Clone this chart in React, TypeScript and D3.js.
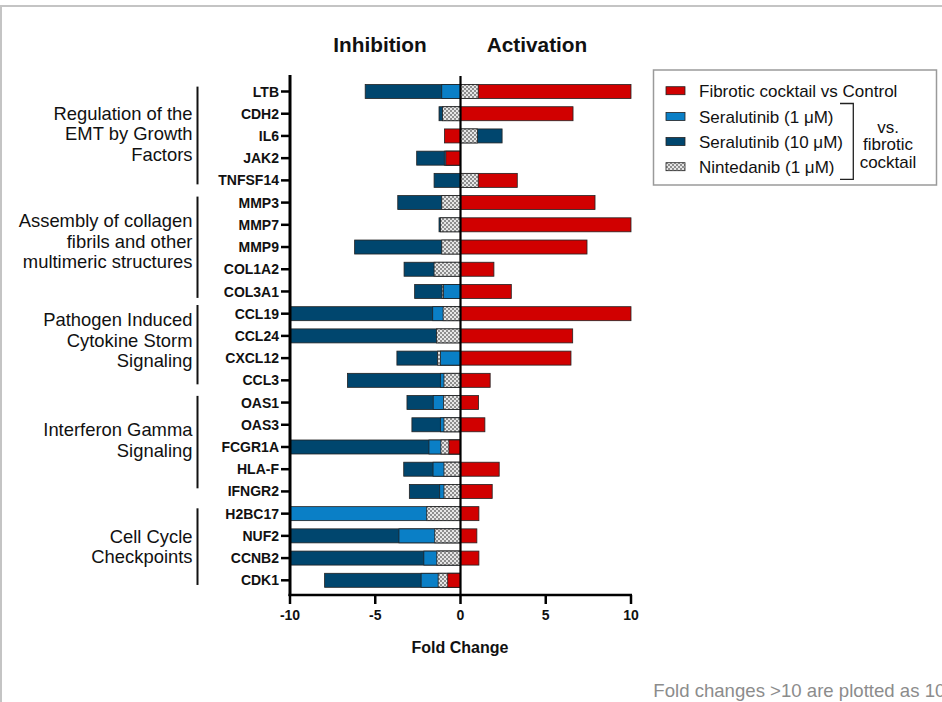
import React from "react";
import * as d3 from "d3";

const genes = ["LTB","CDH2","IL6","JAK2","TNFSF14","MMP3","MMP7","MMP9","COL1A2","COL3A1","CCL19","CCL24","CXCL12","CCL3","OAS1","OAS3","FCGR1A","HLA-F","IFNGR2","H2BC17","NUF2","CCNB2","CDK1"];

// Fold changes (values > 10 plotted as 10); null = not visible
const fibroticVsControl = [10,6.6,-0.94,-0.86,3.33,7.89,10,7.42,1.96,2.98,10,6.58,6.48,1.74,1.06,1.43,-0.68,2.27,1.86,1.08,0.96,1.08,-0.75];
const seralutinib1 = [-1.1,null,null,-0.95,null,null,null,null,null,-1.0,-1.63,null,-1.18,-1.18,-1.6,-1.18,-1.85,-1.61,-1.22,-10,-3.61,-2.15,-2.31];
const seralutinib10 = [-5.59,-1.26,2.44,-2.57,-1.55,-3.68,-1.26,-6.21,-3.31,-2.69,-10,-10,-3.73,-6.63,-3.14,-2.85,-10,-3.33,-3.0,null,-10,-10,-7.97];
const nintedanib1 = [1.04,-1.05,1.0,null,1.04,-1.1,-1.18,-1.1,-1.55,-1.08,-1.02,-1.41,-1.34,-0.97,-1.0,-0.97,-1.15,-0.97,-0.97,-1.98,-1.51,-1.39,-1.31];

const seriesNames = ["Fibrotic cocktail vs Control","Seralutinib (1 μM)","Seralutinib (10 μM)","Nintedanib (1 μM)"];
const xTicks = [-10,-5,0,5,10];

const groupLabels = [
  ["Regulation of the","EMT by Growth","Factors"],
  ["Assembly of collagen","fibrils and other","multimeric structures"],
  ["Pathogen Induced","Cytokine Storm","Signaling"],
  ["Interferon Gamma","Signaling"],
  ["Cell Cycle","Checkpoints"],
];
// bracket spans in row-index units (layout)
const groupSpans = [[-0.22,4.18],[4.73,9.29],[9.61,13.18],[13.7,17.86],[18.76,22.21]];
const labelShift = [0, -4, -2.5, 0, 1.5];

const colors = ["#d10000","#0a7fc6","#00466e","url(#chk)"];
const seriesData = [fibroticVsControl, seralutinib1, seralutinib10, nintedanib1];

export default function App() {
  const x = d3.scaleLinear().domain([-10, 10]).range([290, 631]);
  const y = d3.scalePoint<string>().domain(genes).range([91.5, 580.3]);
  const step = y.step();
  const yi = (i: number) => 91.5 + i * step;
  const barH = 14;
  const font = "Liberation Sans, Arial, sans-serif";

  const bars: any[] = [];
  genes.forEach((g, gi) => {
    const items = seriesData
      .map((s, si) => ({ si, v: s[gi] as number | null }))
      .filter((d) => d.v !== null && d.v !== 0) as { si: number; v: number }[];
    items.sort((a, b) => Math.abs(b.v) - Math.abs(a.v));
    items.forEach((d) => {
      const x0 = x(0), x1 = x(d.v);
      bars.push(
        <rect key={g + d.si} x={Math.min(x0, x1)} y={(y(g) as number) - barH / 2}
          width={Math.abs(x1 - x0)} height={barH} fill={colors[d.si]}
          stroke="#222" strokeWidth={0.8} />
      );
    });
  });

  const legendRows = [90.7, 116.5, 141.5, 166.7];

  return (
    <svg width={942} height={702} style={{ position: "absolute", left: 0, top: 0 }} fontFamily={font}>
      <defs>
        <pattern id="chk" width={4} height={4} patternUnits="userSpaceOnUse">
          <rect width={4} height={4} fill="#e6e6e6" />
          <rect width={2} height={2} fill="#8e8e8e" />
          <rect x={2} y={2} width={2} height={2} fill="#8e8e8e" />
        </pattern>
      </defs>
      <rect x={1} y={6} width={1200} height={1200} fill="white" stroke="#c4c4c4" strokeWidth={2} />

      <text x={380} y={51.5} textAnchor="middle" fontWeight="bold" fontSize={20.8} fill="#111">Inhibition</text>
      <text x={537} y={51.5} textAnchor="middle" fontWeight="bold" fontSize={20.8} fill="#111">Activation</text>

      {bars}

      {/* zero line */}
      <line x1={x(0)} x2={x(0)} y1={76} y2={595} stroke="#000" strokeWidth={2.2} />
      {/* y axis */}
      <line x1={290} x2={290} y1={75} y2={596} stroke="#000" strokeWidth={3} />
      {genes.map((g) => (
        <g key={g}>
          <line x1={281} x2={290} y1={y(g)} y2={y(g)} stroke="#000" strokeWidth={2.5} />
          <text x={279} y={y(g)} dy="0.36em" textAnchor="end" fontWeight="bold" fontSize={14} fill="#111">{g}</text>
        </g>
      ))}
      {/* x axis */}
      <line x1={288.5} x2={632} y1={595} y2={595} stroke="#000" strokeWidth={2.5} />
      {xTicks.map((t) => (
        <g key={t}>
          <line x1={x(t)} x2={x(t)} y1={595} y2={604} stroke="#000" strokeWidth={2.5} />
          <text x={x(t)} y={620} textAnchor="middle" fontWeight="bold" fontSize={14} fill="#111">{t}</text>
        </g>
      ))}
      <text x={460} y={653} textAnchor="middle" fontWeight="bold" fontSize={16} fill="#111">Fold Change</text>

      {/* groups */}
      {groupLabels.map((lines, k) => {
        const [a, b] = groupSpans[k];
        const y0 = yi(a), y1 = yi(b);
        const mid = (y0 + y1) / 2 - 2 + labelShift[k];
        const lh = 20.5;
        return (
          <g key={k}>
            <line x1={197.5} x2={197.5} y1={y0} y2={y1} stroke="#111" strokeWidth={2} />
            {lines.map((l, j) => (
              <text key={j} x={192.5} y={mid + (j - (lines.length - 1) / 2) * lh} dy="0.36em"
                textAnchor="end" fontSize={18.4} fill="#111">{l}</text>
            ))}
          </g>
        );
      })}

      {/* legend */}
      <rect x={653.5} y={70} width={283} height={115} fill="white" stroke="#9a9a9a" strokeWidth={1.5} />
      {seriesNames.map((n, i) => (
        <g key={n}>
          <rect x={666} y={legendRows[i] - 4} width={19} height={8} fill={colors[i]} stroke="#222" strokeWidth={0.8} />
          <text x={699} y={legendRows[i]} dy="0.36em" fontSize={17} fill="#111">{n}</text>
        </g>
      ))}
      <path d="M840,103.5 H853.3 V179.3 H840" fill="none" stroke="#222" strokeWidth={1.3} />
      {["vs.", "fibrotic", "cocktail"].map((t, i) => (
        <text key={t} x={888} y={126.7 + i * 17.5} dy="0.36em" textAnchor="middle" fontSize={17} fill="#111">{t}</text>
      ))}

      <text x={653.3} y={697} fontSize={18.6} fill="#8c8c8c">Fold changes &gt;10 are plotted as 10</text>
    </svg>
  );
}
